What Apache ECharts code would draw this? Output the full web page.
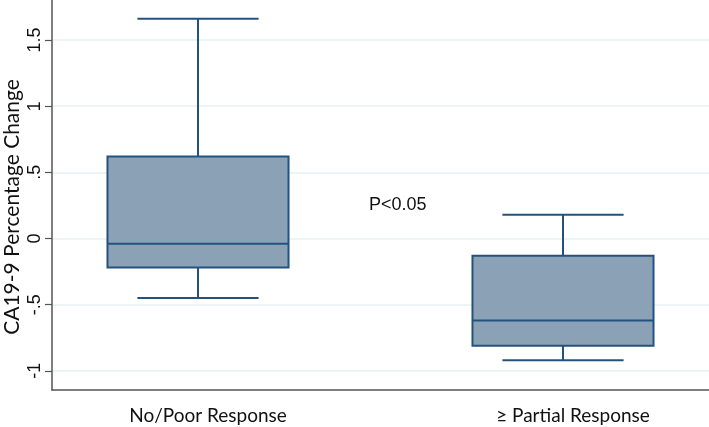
<!DOCTYPE html>
<html>
<head>
<meta charset="utf-8">
<script src="https://cdn.jsdelivr.net/npm/echarts@6/dist/echarts.min.js"></script>
<style>
html,body{margin:0;padding:0;background:#fff;}
#chart{width:709px;height:427px;}
</style>
</head>
<body>
<div id="chart"></div>
<script>
var categories = ['No/Poor Response', '\u2265 Partial Response'];
var positions = [1, 2];
var whiskerLow = [-0.45, -0.92];
var q1 = [-0.22, -0.81];
var median = [-0.04, -0.62];
var q3 = [0.62, -0.13];
var whiskerHigh = [1.66, 0.18];
var yTicks = [-1, -0.5, 0, 0.5, 1, 1.5];
var yTickLabels = ['-1', '-.5', '0', '.5', '1', '1.5'];
var yTitle = 'CA19-9 Percentage Change';
var annotation = 'P<0.05';

var boxData = positions.map(function (p, i) {
  return [p, whiskerLow[i], q1[i], median[i], q3[i], whiskerHigh[i]];
});

var FILL = '#8BA2B6';
var STROKE = '#24527F';

function renderBox(params, api) {
  var x = api.value(0);
  var boxHalf = 0.248, capHalf = 0.166;
  var pLow = api.coord([x, api.value(1)]);
  var pQ1 = api.coord([x, api.value(2)]);
  var pMed = api.coord([x, api.value(3)]);
  var pQ3 = api.coord([x, api.value(4)]);
  var pHigh = api.coord([x, api.value(5)]);
  var bl = api.coord([x - boxHalf, 0])[0];
  var br = api.coord([x + boxHalf, 0])[0];
  var cl = api.coord([x - capHalf, 0])[0];
  var cr = api.coord([x + capHalf, 0])[0];
  var ls = { stroke: STROKE, lineWidth: 2 };
  return {
    type: 'group',
    children: [
      { type: 'line', shape: { x1: pHigh[0], y1: pHigh[1], x2: pQ3[0], y2: pQ3[1] }, style: ls },
      { type: 'line', shape: { x1: pLow[0], y1: pLow[1], x2: pQ1[0], y2: pQ1[1] }, style: ls },
      { type: 'line', shape: { x1: cl, y1: pHigh[1], x2: cr, y2: pHigh[1] }, style: ls },
      { type: 'line', shape: { x1: cl, y1: pLow[1], x2: cr, y2: pLow[1] }, style: ls },
      { type: 'rect', shape: { x: bl, y: pQ3[1], width: br - bl, height: pQ1[1] - pQ3[1] }, style: { fill: FILL, stroke: STROKE, lineWidth: 2 } },
      { type: 'line', shape: { x1: bl, y1: pMed[1], x2: br, y2: pMed[1] }, style: ls }
    ]
  };
}

var chart = echarts.init(document.getElementById('chart'), null, { renderer: 'canvas' });
chart.setOption({
  animation: false,
  backgroundColor: '#ffffff',
  grid: { left: 52, right: 0, top: 0, bottom: 37, containLabel: false, outerBoundsMode: 'none' },
  xAxis: {
    type: 'value',
    min: 0.6,
    max: 2.4,
    axisLine: { show: true, onZero: false, lineStyle: { color: '#555555', width: 1.5 } },
    axisTick: { show: false },
    splitLine: { show: false },
    axisLabel: {
      customValues: positions,
      formatter: function (v) { return categories[Math.round(v) - 1]; },
      color: '#111111',
      fontSize: 19,
      fontFamily: 'Lato, "Open Sans", sans-serif',
      margin: 16,
      padding: [0, 0, 0, 20]
    }
  },
  yAxis: {
    type: 'value',
    min: -1.145,
    max: 1.802,
    axisLine: { show: true, onZero: false, lineStyle: { color: '#555555', width: 1.5 } },
    axisTick: { show: true, customValues: yTicks, length: 7, lineStyle: { color: '#555555', width: 1.2 } },
    splitLine: { show: true, lineStyle: { color: '#E6F0F2', width: 1.5 } },
    axisLabel: {
      customValues: yTicks,
      rotate: 90,
      margin: 8,
      color: '#111111',
      fontSize: 18,
      fontFamily: '"Liberation Sans", Arial, sans-serif',
      formatter: function (v) {
        var i = yTicks.indexOf(Math.round(v * 10) / 10);
        return i >= 0 ? yTickLabels[i] : '';
      }
    }
  },
  series: [{
    type: 'custom',
    renderItem: renderBox,
    encode: { x: 0, y: [1, 2, 3, 4, 5] },
    data: boxData,
    clip: false,
    z: 5
  }],
  graphic: [{
    type: 'text',
    x: 12,
    y: 207,
    rotation: Math.PI / 2,
    style: { text: yTitle, fill: '#111111', fontSize: 21, fontFamily: 'Lato, "Open Sans", sans-serif', align: 'center', verticalAlign: 'middle' }
  }, {
    type: 'text',
    left: 369,
    top: 196,
    style: { text: annotation, fill: '#111111', fontSize: 18, fontFamily: '"Liberation Sans", Arial, sans-serif' }
  }]
});
</script>
</body>
</html>
